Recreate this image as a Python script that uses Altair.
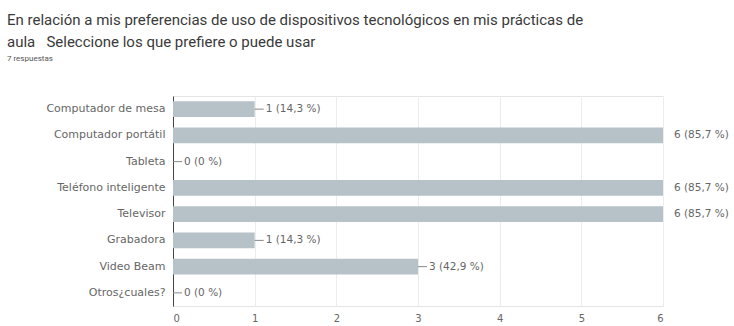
import altair as alt
import pandas as pd

categories = ["Computador de mesa", "Computador portátil", "Tableta", "Teléfono inteligente",
              "Televisor", "Grabadora", "Video Beam", "Otros¿cuales?"]
counts = [1, 6, 0, 6, 6, 1, 3, 0]
total = 7
x_ticks = [0, 1, 2, 3, 4, 5, 6]

def fmt(v):
    p = round(v / total * 100, 1)
    s = ("%.1f" % p).replace(".", ",")
    if s.endswith(",0"):
        s = s[:-2]
    return "%d (%s %%)" % (v, s)

df = pd.DataFrame({"cat": categories, "n": counts, "label": [fmt(v) for v in counts]})

FONT = "Roboto"
LFONT = "DejaVu Sans"
y_enc = alt.Y("cat:N", sort=categories, title=None,
              scale=alt.Scale(paddingInner=0.4, paddingOuter=0.2),
              axis=alt.Axis(domain=True, domainColor="#444", domainWidth=1, ticks=False,
                            labelPadding=8, labelFontSize=11, labelColor="#666",
                            labelFont=LFONT, grid=False))
x_enc = alt.X("n:Q", title=None, scale=alt.Scale(domain=[0, 6], nice=False),
              axis=alt.Axis(values=x_ticks, domain=False, ticks=False, labelPadding=7,
                            labelFontSize=10, labelColor="#666", labelFont=LFONT,
                            grid=True, gridColor="#ececec", format="d"))

bars = alt.Chart(df).mark_bar(color="#b6c2c8").encode(x=x_enc, y=y_enc)

lead = alt.Chart(df).transform_filter("datum.n < 6").mark_rule(
    color="#888", strokeWidth=1, x2Offset=9).encode(
    x="n:Q", x2="n:Q", y=alt.Y("cat:N", sort=categories))

txt = alt.Chart(df).mark_text(align="left", baseline="middle", dx=11, fontSize=10.5,
                              color="#666", font=LFONT).encode(
    x="n:Q", y=alt.Y("cat:N", sort=categories), text="label:N")

chart = alt.layer(bars, lead, txt).properties(
    width=490, height=210,
    autosize=alt.AutoSizeParams(type="none"),
    padding={"left": 173, "top": 96, "right": 71, "bottom": 20},
    title=alt.TitleParams(
        text=["En relación a mis preferencias de uso de dispositivos tecnológicos en mis prácticas de",
              "aula\u00a0\u00a0 Seleccione los que prefiere o puede usar"],
        subtitle="7 respuestas",
        anchor="start", frame="group", dx=-166, offset=33,
        font=FONT, fontSize=15, fontWeight="normal", color="#3a3a3a", lineHeight=22,
        subtitleFont=FONT, subtitleFontSize=8, subtitleColor="#555", subtitlePadding=5),
).configure_view(stroke="#e4e4e4", strokeWidth=1)

chart.save("out.html", embed_options={"renderer": "svg", "actions": False})
